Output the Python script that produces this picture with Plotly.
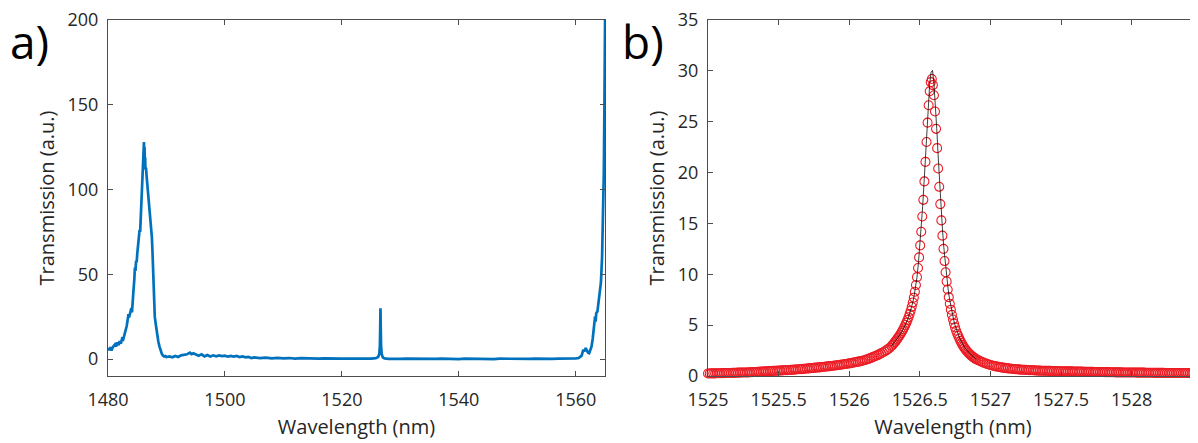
import numpy as np
import plotly.graph_objects as go

# ---------------- panel a) broadband transmission ----------------
wl_a = [1480.0, 1480.2, 1480.4, 1480.6, 1480.8, 1481.0, 1481.2, 1481.4, 1481.6, 1481.8,
        1482.0, 1482.2, 1482.4, 1482.6, 1482.8, 1483.0, 1483.2, 1483.4, 1483.5, 1483.6,
        1483.8, 1484.0, 1484.1, 1484.2, 1484.35, 1484.5, 1484.6, 1484.7, 1484.8, 1484.9,
        1485.0, 1485.1, 1485.2, 1485.3, 1485.4, 1485.5, 1485.6, 1485.7, 1485.8, 1485.9,
        1486.0, 1486.05, 1486.1, 1486.15, 1486.2, 1486.25, 1486.3, 1486.35, 1486.4, 1486.5,
        1486.6, 1486.7, 1486.8, 1486.9, 1487.0, 1487.1, 1487.2, 1487.3, 1487.4, 1487.5,
        1487.6, 1487.7, 1487.8, 1487.9, 1488.0, 1488.15, 1488.3, 1488.45, 1488.6, 1488.8,
        1489.0, 1489.2, 1489.4, 1489.6, 1489.8, 1490.0, 1490.5, 1491.0, 1491.5, 1492.0,
        1492.5, 1493.0, 1493.5, 1494.0, 1494.3, 1494.6, 1495.0, 1495.5, 1496.0, 1496.5,
        1497.0, 1497.5, 1498.0, 1498.5, 1499.0, 1499.5, 1500.0, 1500.5, 1501.0, 1501.5,
        1502.0, 1502.5, 1503.0, 1503.5, 1504.0, 1504.5, 1505.0, 1506.0, 1507.0, 1508.0,
        1509.0, 1510.0, 1511.0, 1512.0, 1513.0, 1514.0, 1515.0, 1516.0, 1517.0, 1518.0,
        1519.0, 1520.0, 1521.0, 1522.0, 1523.0, 1524.0, 1525.0, 1525.8, 1526.2, 1526.4,
        1526.5, 1526.55, 1526.6, 1526.65, 1526.7, 1526.8, 1527.0, 1527.3, 1528.0, 1529.0,
        1530.0, 1531.0, 1532.0, 1533.0, 1534.0, 1535.0, 1536.0, 1537.0, 1538.0, 1539.0,
        1540.0, 1541.0, 1542.0, 1543.0, 1544.0, 1545.0, 1546.0, 1547.0, 1548.0, 1549.0,
        1550.0, 1551.0, 1552.0, 1553.0, 1554.0, 1555.0, 1556.0, 1557.0, 1558.0, 1559.0,
        1560.0, 1560.5, 1560.8, 1561.0, 1561.3, 1561.5, 1561.7, 1561.9, 1562.1, 1562.3,
        1562.5, 1562.7, 1562.9, 1563.0, 1563.2, 1563.3, 1563.4, 1563.5, 1563.7, 1563.9,
        1564.1, 1564.3, 1564.5, 1564.7, 1564.8, 1564.9, 1565.0, 1565.1]
tr_a = [6.5, 5.2, 7.0, 5.0, 6.8, 7.5, 8.6, 7.4, 9.8, 8.2,
        10.5, 9.0, 12.0, 11.5, 14.0, 16.5, 19.5, 24.0, 26.5, 24.5,
        28.0, 30.0, 27.5, 35.0, 40.0, 47.0, 54.0, 52.0, 58.0, 57.0,
        62.0, 66.0, 70.0, 69.0, 76.0, 75.0, 85.0, 90.0, 95.0, 110.0,
        118.0, 127.0, 124.0, 128.0, 120.0, 125.0, 116.0, 119.0, 112.0, 113.0,
        108.0, 104.0, 100.0, 96.0, 94.0, 88.0, 87.0, 82.0, 80.0, 72.0,
        64.0, 52.0, 40.0, 30.0, 25.0, 21.0, 17.0, 14.0, 10.5, 7.5,
        5.0, 3.2, 2.0, 1.5, 1.8, 1.2, 1.5, 1.0, 1.8, 1.2,
        2.2, 2.5, 2.8, 3.8, 2.9, 3.4, 2.6, 2.0, 2.8, 1.6,
        2.4, 1.5, 2.2, 1.6, 2.1, 1.7, 2.0, 1.4, 1.9, 1.5,
        1.8, 1.2, 1.6, 1.0, 1.3, 0.6, 1.0, 0.6, 0.8, 0.4,
        0.7, 0.4, 0.6, 0.3, 0.5, 0.3, 0.5, 0.2, 0.4, 0.2,
        0.4, 0.2, 0.3, 0.2, 0.3, 0.2, 0.3, 0.5, 1.2, 3.0,
        8.0, 18.0, 30.0, 18.0, 8.0, 3.0, 1.0, 0.4, 0.1, 0.3,
        0.1, 0.2, 0.1, 0.3, 0.1, 0.2, 0.1, 0.3, 0.1, 0.2,
        0.0, 0.2, 0.1, 0.3, 0.1, 0.2, 0.0, 0.2, 0.1, 0.3,
        0.1, 0.2, 0.1, 0.3, 0.1, 0.2, 0.1, 0.3, 0.2, 0.3,
        0.4, 0.6, 1.2, 2.0, 5.5, 4.5, 6.5, 5.0, 3.8, 3.5,
        5.0, 7.5, 12.0, 15.0, 20.0, 25.0, 22.0, 27.0, 28.0, 33.0,
        38.0, 45.0, 60.0, 85.0, 110.0, 150.0, 200.0, 240.0]

# ---------------- panel b) single resonance (measured points) ----------------
# wavelength sampling grid of the measurement: three uniformly sampled segments
wl_b_left = np.round(1525.0 + 0.0125 * np.arange(104), 4)     # 1525.0000 ... 1526.2875
wl_b_core = np.round(1526.3 + 0.0075 * np.arange(81), 4)      # 1526.3000 ... 1526.9000
wl_b_right = np.round(1526.9125 + 0.0125 * np.arange(128), 4)  # 1526.9125 ... 1528.5000

tr_b_left = [0.25, 0.25, 0.26, 0.26, 0.26, 0.27, 0.27, 0.27,
             0.28, 0.28, 0.29, 0.29, 0.30, 0.30, 0.31, 0.31,
             0.32, 0.33, 0.33, 0.34, 0.34, 0.35, 0.35, 0.36,
             0.37, 0.38, 0.39, 0.40, 0.41, 0.42, 0.43, 0.44,
             0.45, 0.46, 0.47, 0.48, 0.49, 0.50, 0.51, 0.52,
             0.53, 0.54, 0.55, 0.56, 0.57, 0.58, 0.59, 0.60,
             0.62, 0.63, 0.64, 0.66, 0.67, 0.68, 0.70, 0.71,
             0.73, 0.75, 0.76, 0.78, 0.80, 0.82, 0.83, 0.85,
             0.87, 0.89, 0.91, 0.93, 0.95, 0.97, 0.99, 1.01,
             1.03, 1.05, 1.08, 1.10, 1.13, 1.16, 1.18, 1.21,
             1.24, 1.27, 1.30, 1.34, 1.37, 1.41, 1.44, 1.48,
             1.52, 1.57, 1.63, 1.69, 1.76, 1.83, 1.90, 1.97,
             2.05, 2.13, 2.22, 2.31, 2.41, 2.52, 2.64, 2.78]
tr_b_core = [2.95, 3.07, 3.20, 3.33, 3.46, 3.60, 3.75, 3.90, 4.06, 4.23,
             4.41, 4.60, 4.80, 5.02, 5.25, 5.50, 5.78, 6.08, 6.42, 6.80,
             7.22, 7.70, 8.28, 8.95, 9.72, 10.62, 11.66, 12.84, 14.18, 15.68,
             17.32, 19.13, 21.05, 23.01, 24.91, 26.62, 27.99, 28.89, 29.20, 28.60,
             27.60, 26.00, 24.30, 22.40, 20.40, 18.60, 16.90, 15.30, 13.80, 12.50,
             11.30, 10.20, 9.30, 8.50, 7.75, 7.10, 6.52, 6.01, 5.55, 5.15,
             4.78, 4.45, 4.15, 3.93, 3.68, 3.45, 3.25, 3.06, 2.89, 2.74,
             2.59, 2.46, 2.34, 2.23, 2.13, 2.03, 1.94, 1.86, 1.78, 1.71,
             1.64]
tr_b_right = [1.56, 1.48, 1.40, 1.32, 1.25, 1.19, 1.13, 1.08,
              1.03, 0.99, 0.95, 0.92, 0.88, 0.85, 0.82, 0.80,
              0.77, 0.75, 0.73, 0.71, 0.69, 0.68, 0.66, 0.65,
              0.63, 0.62, 0.61, 0.60, 0.59, 0.58, 0.57, 0.56,
              0.55, 0.54, 0.53, 0.53, 0.52, 0.52, 0.51, 0.51,
              0.50, 0.50, 0.49, 0.49, 0.48, 0.48, 0.47, 0.47,
              0.46, 0.46, 0.46, 0.45, 0.45, 0.45, 0.44, 0.44,
              0.44, 0.43, 0.43, 0.43, 0.42, 0.42, 0.42, 0.41,
              0.41, 0.41, 0.40, 0.40, 0.40, 0.39, 0.39, 0.39,
              0.38, 0.38, 0.38, 0.37, 0.37, 0.37, 0.36, 0.36,
              0.36, 0.36, 0.35, 0.35, 0.35, 0.35, 0.34, 0.34,
              0.34, 0.34, 0.33, 0.33, 0.33, 0.33, 0.33, 0.32,
              0.32, 0.32, 0.32, 0.32, 0.31, 0.31, 0.31, 0.31,
              0.31, 0.31, 0.30, 0.30, 0.30, 0.30, 0.30, 0.30,
              0.30, 0.29, 0.29, 0.29, 0.29, 0.29, 0.29, 0.29,
              0.28, 0.28, 0.28, 0.28, 0.28, 0.28, 0.28, 0.28]

wl_b = list(wl_b_left) + list(wl_b_core) + list(wl_b_right)
tr_b = tr_b_left + tr_b_core + tr_b_right

# ---------------- panel b) fitted curve ----------------
wl_fit = [1526.30, 1526.31, 1526.32, 1526.33, 1526.34, 1526.35, 1526.36, 1526.37, 1526.38, 1526.39,
          1526.40, 1526.41, 1526.42, 1526.43, 1526.44, 1526.45, 1526.46, 1526.47, 1526.48, 1526.49,
          1526.50, 1526.51, 1526.52, 1526.53, 1526.54, 1526.55, 1526.56, 1526.57, 1526.58, 1526.59,
          1526.60, 1526.61, 1526.62, 1526.63, 1526.64, 1526.65, 1526.66, 1526.67, 1526.68, 1526.69,
          1526.70, 1526.71, 1526.72, 1526.73, 1526.74, 1526.75, 1526.76, 1526.77, 1526.78, 1526.79,
          1526.80, 1526.81, 1526.82, 1526.83, 1526.84, 1526.85, 1526.86, 1526.87, 1526.88, 1526.89,
          1526.90]
tr_fit = [2.95, 3.12, 3.29, 3.46, 3.65, 3.85, 4.06, 4.29, 4.54, 4.80,
          5.08, 5.42, 5.78, 6.19, 6.68, 7.22, 7.90, 8.73, 9.72, 11.07,
          12.65, 14.49, 16.62, 19.02, 21.63, 24.30, 26.79, 28.76, 29.86, 30.05,
          28.76, 26.79, 24.30, 21.63, 19.02, 16.62, 14.49, 12.65, 11.07, 9.73,
          8.59, 7.62, 6.80, 6.09, 5.49, 4.97, 4.51, 4.12, 3.78, 3.47,
          3.20, 2.97, 2.76, 2.57, 2.40, 2.25, 2.11, 1.99, 1.88, 1.77,
          1.68]

# ---------------- tick labels ----------------
a_xticks = [1480, 1500, 1520, 1540, 1560]
a_yticks = [0, 50, 100, 150, 200]
b_xticks = [1525, 1525.5, 1526, 1526.5, 1527, 1527.5, 1528]
b_xlabels = ["1525", "1525.5", "1526", "1526.5", "1527", "1527.5", "1528"]
b_yticks = [0, 5, 10, 15, 20, 25, 30, 35]

# the page body keeps the browser's default 8 px margin, so the figure is
# 8 px smaller than the 1198x443 window and everything is placed in its own pixels
W, H = 1190, 435
FONT = "Open Sans"
TXT = "#262626"
AX = "#4d4d4d"

fig = go.Figure()
fig.add_trace(go.Scatter(x=wl_a, y=tr_a, mode="lines",
                         line=dict(color="#0072BD", width=2.7),
                         xaxis="x", yaxis="y", showlegend=False))
fig.add_trace(go.Scatter(x=wl_b, y=tr_b, mode="markers",
                         marker=dict(symbol="circle-open", size=9,
                                     line=dict(color="#EC1C24", width=1.1),
                                     color="#EC1C24"),
                         cliponaxis=False,
                         xaxis="x2", yaxis="y2", showlegend=False))
fig.add_trace(go.Scatter(x=wl_fit, y=tr_fit, mode="lines",
                         line=dict(color="rgba(0,0,0,0.75)", width=1),
                         xaxis="x2", yaxis="y2", showlegend=False))

ydom = [1 - 368 / H, 1 - 12 / H]
common_axis = dict(showline=True, linecolor=AX, linewidth=1, ticks="inside",
                   ticklen=5, tickcolor=AX, tickwidth=1, showgrid=False,
                   zeroline=False, automargin=False, ticklabeloverflow="allow",
                   tickfont=dict(family=FONT, size=18, color=TXT))
title_font = dict(family=FONT, size=20, color=TXT)

fig.update_layout(
    width=W, height=H,
    margin=dict(l=0, r=0, t=0, b=0),
    paper_bgcolor="white", plot_bgcolor="white",
    font=dict(family=FONT, color=TXT),
    xaxis=dict(domain=[100 / W, 597 / W], range=[1480, 1565], tickvals=a_xticks,
               mirror="ticks", anchor="y", ticklabelstandoff=7,
               title=dict(text="Wavelength (nm)", font=title_font, standoff=10),
               **common_axis),
    yaxis=dict(domain=ydom, range=[-10, 200], tickvals=a_yticks,
               mirror="ticks", anchor="x", ticklabelstandoff=5,
               title=dict(text="Transmission (a.u.)", font=title_font, standoff=7),
               **common_axis),
    xaxis2=dict(domain=[700 / W, 1.0], range=[1525, 1528.47], tickvals=b_xticks,
                ticktext=b_xlabels, mirror="ticks", anchor="y2", ticklabelstandoff=7,
                title=dict(text="Wavelength (nm)", font=title_font, standoff=10),
                **common_axis),
    yaxis2=dict(domain=ydom, range=[0, 35], tickvals=b_yticks,
                mirror=False, anchor="x2", ticklabelstandoff=5,
                title=dict(text="Transmission (a.u.)", font=title_font, standoff=7),
                **common_axis),
    annotations=[
        dict(text="a)", x=0, y=1 - 33 / H, xref="paper", yref="paper",
             xanchor="left", yanchor="middle", showarrow=False,
             font=dict(family=FONT, size=46, color="black")),
        dict(text="b)", x=612 / W, y=1 - 33 / H, xref="paper", yref="paper",
             xanchor="left", yanchor="middle", showarrow=False,
             font=dict(family=FONT, size=46, color="black")),
    ],
)

fig.write_html("out.html")
